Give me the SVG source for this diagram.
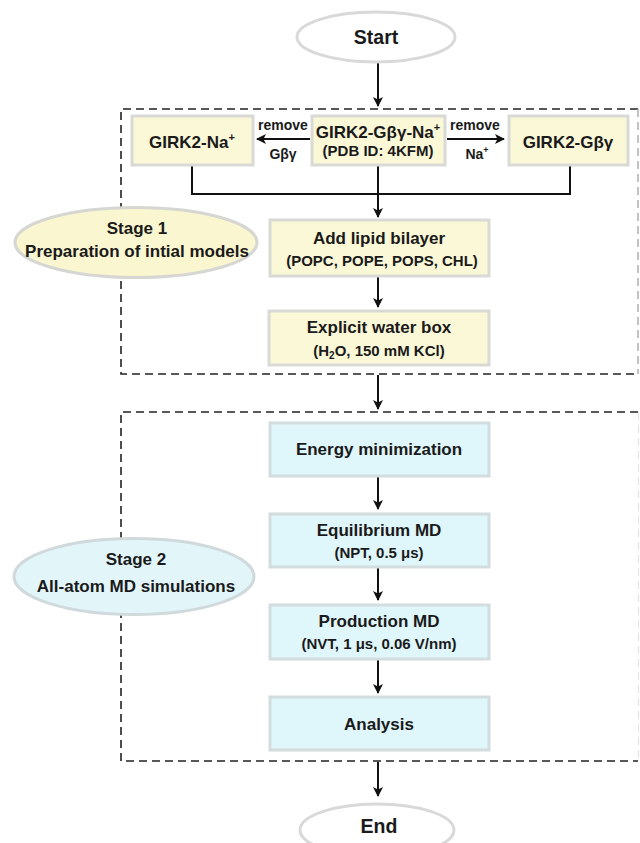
<svg xmlns="http://www.w3.org/2000/svg" width="640" height="843" viewBox="0 0 640 843">
<defs>
<marker id="ah" markerWidth="10" markerHeight="10" viewBox="0 0 10 10" refX="9" refY="5" orient="auto" markerUnits="userSpaceOnUse">
<path d="M0,0 L10,5 L0,10 L2.5,5 Z" fill="#111"/>
</marker>
</defs>
<style>
text{font-family:"Liberation Sans",Arial,sans-serif;font-weight:bold;fill:#1a1a1a;text-anchor:middle}
.t{font-size:17px}
.s{font-size:15px}
.r{font-size:14px}
.y{fill:#fbf8d8;stroke:#d9d9d6;stroke-width:3}
.b{fill:#dff6fa;stroke:#d3dcde;stroke-width:3}
.e{fill:#fff;stroke:#d9d9d9;stroke-width:3}
.ey{fill:#faf7d0;stroke:#d6d6d2;stroke-width:3}
.eb{fill:#e2f6fa;stroke:#d0dadc;stroke-width:3}
.dash{fill:none;stroke:#222;stroke-width:1.6;stroke-dasharray:8 5}
.c{fill:none;stroke:#111;stroke-width:2}
.ca{fill:none;stroke:#111;stroke-width:2;marker-end:url(#ah)}
</style>
<rect width="640" height="843" fill="#fff"/>

<g id="stage-boxes">
<path class="dash" d="M638,109 H121 V374 H638"/>
<line x1="638" y1="109" x2="638" y2="374" style="fill:none;stroke:#aaa;stroke-width:1.4;stroke-dasharray:8 5"/>
<path class="dash" d="M638,412 H121 V761 H638"/>
<line x1="638.5" y1="412" x2="638.5" y2="761" style="fill:none;stroke:#e4e4e4;stroke-width:1.2;stroke-dasharray:8 5"/>
</g>

<g id="connectors">
<line class="ca" x1="378" y1="63" x2="378" y2="106"/>
<line class="ca" x1="310" y1="139" x2="257" y2="139"/>
<line class="ca" x1="447" y1="139" x2="504" y2="139"/>
<polyline class="c" points="192,166 192,194 570,194 570,166"/>
<line class="ca" x1="378" y1="166" x2="378" y2="217"/>
<line class="ca" x1="378" y1="277" x2="378" y2="307"/>
<line class="ca" x1="378" y1="375" x2="378" y2="409"/>
<line class="ca" x1="378" y1="476" x2="378" y2="509"/>
<line class="ca" x1="378" y1="567" x2="378" y2="600"/>
<line class="ca" x1="378" y1="659" x2="378" y2="693"/>
<line class="ca" x1="378" y1="762" x2="378" y2="796"/>
</g>

<g id="edge-labels">
<text class="r" x="283" y="130">remove</text>
<text class="r" x="283" y="159">Gβγ</text>
<text class="r" x="475" y="130">remove</text>
<text class="r" x="477" y="159">Na<tspan font-size="9" dy="-6">+</tspan></text>
</g>

<g id="start">
<ellipse class="e" cx="376" cy="37" rx="79" ry="25"/>
<text x="376" y="44" style="font-size:19.5px">Start</text>
</g>

<g id="girk2-na">
<rect class="y" x="132" y="116" width="121" height="49"/>
<text class="t" x="192" y="148">GIRK2-Na<tspan font-size="11" dy="-7">+</tspan></text>
</g>

<g id="girk2-gbg-na">
<rect class="y" x="312" y="116" width="133" height="49"/>
<text class="t" x="378" y="138">GIRK2-Gβγ-Na<tspan font-size="11" dy="-7">+</tspan></text>
<text class="s" x="378" y="156">(PDB ID: 4KFM)</text>
</g>

<g id="girk2-gbg">
<rect class="y" x="509" y="116" width="119" height="49"/>
<text class="t" x="568" y="148">GIRK2-Gβγ</text>
</g>

<g id="stage1">
<ellipse class="ey" cx="136" cy="242.5" rx="121" ry="35"/>
<text class="t" x="137" y="234">Stage 1</text>
<text class="t" x="137" y="257">Preparation of intial models</text>
</g>

<g id="lipid">
<rect class="y" x="270" y="220" width="219" height="56"/>
<text class="t" x="379" y="244">Add lipid bilayer</text>
<text class="s" x="382" y="266">(POPC, POPE, POPS, CHL)</text>
</g>

<g id="water">
<rect class="y" x="269" y="311" width="220" height="54"/>
<text class="t" x="379" y="333">Explicit water box</text>
<text class="s" x="379" y="356">(H<tspan font-size="10" dy="3">2</tspan><tspan dy="-3">O, 150 mM KCl)</tspan></text>
</g>

<g id="energy">
<rect class="b" x="270" y="423" width="219" height="53"/>
<text class="t" x="379" y="455">Energy minimization</text>
</g>

<g id="equilibrium">
<rect class="b" x="270" y="514" width="219" height="53"/>
<text class="t" x="379" y="536">Equilibrium MD</text>
<text class="s" x="379" y="558">(NPT, 0.5 μs)</text>
</g>

<g id="stage2">
<ellipse class="eb" cx="134" cy="576.5" rx="120" ry="38"/>
<text class="t" x="136" y="565">Stage 2</text>
<text class="t" x="136" y="592">All-atom MD simulations</text>
</g>

<g id="production">
<rect class="b" x="270" y="605" width="219" height="54"/>
<text class="t" x="379" y="627">Production MD</text>
<text class="s" x="379" y="649">(NVT, 1 μs, 0.06 V/nm)</text>
</g>

<g id="analysis">
<rect class="b" x="270" y="697" width="219" height="53"/>
<text class="t" x="379" y="730">Analysis</text>
</g>

<g id="end">
<ellipse class="e" cx="377" cy="830" rx="77" ry="26"/>
<text x="379" y="833" style="font-size:19.5px">End</text>
</g>
</svg>
